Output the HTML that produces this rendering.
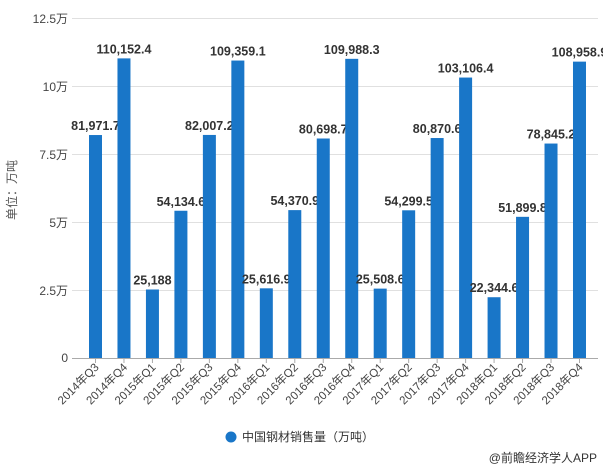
<!DOCTYPE html>
<html><head><meta charset="utf-8"><style>
html,body{margin:0;padding:0;background:#fff;}
svg{display:block;font-family:"Liberation Sans","Noto Sans CJK SC",sans-serif;}
</style></head><body>
<svg width="603" height="471" viewBox="0 0 603 471">
<g stroke="#e0e0e0" stroke-width="1">
<line x1="72" y1="18.5" x2="598" y2="18.5"/>
<line x1="72" y1="86.5" x2="598" y2="86.5"/>
<line x1="72" y1="154.5" x2="598" y2="154.5"/>
<line x1="72" y1="222.5" x2="598" y2="222.5"/>
<line x1="72" y1="290.5" x2="598" y2="290.5"/>
</g>
<g font-size="12" fill="#444" text-anchor="end">
<text x="68" y="23">12.5万</text>
<text x="68" y="91">10万</text>
<text x="68" y="159">7.5万</text>
<text x="68" y="227">5万</text>
<text x="68" y="295">2.5万</text>
<text x="68" y="362">0</text>
</g>
<text transform="translate(16,190) rotate(-90)" font-size="12" fill="#555" text-anchor="middle">单位：万吨</text>
<g id="bars"></g>
<line x1="72" y1="358.5" x2="598" y2="358.5" stroke="#aaa"/>
<g id="ticks"></g>
<circle cx="231" cy="437" r="5.5" fill="#1976c8"/>
<text x="242" y="441" font-size="12" fill="#333">中国钢材销售量（万吨）</text>
<text x="597" y="462" font-size="12" fill="#333" text-anchor="end">@前瞻经济学人APP</text>
<script>
var v=[81971.7,110152.4,25188,54134.6,82007.2,109359.1,25616.9,54370.9,80698.7,109988.3,25508.6,54299.5,80870.6,103106.4,22344.6,51899.8,78845.2,108958.9];
var cats=["2014年Q3","2014年Q4","2015年Q1","2015年Q2","2015年Q3","2015年Q4","2016年Q1","2016年Q2","2016年Q3","2016年Q4","2017年Q1","2017年Q2","2017年Q3","2017年Q4","2018年Q1","2018年Q2","2018年Q3","2018年Q4"];
var ns="http://www.w3.org/2000/svg",b=document.getElementById("bars"),t=document.getElementById("ticks");
function el(n,a,p,txt){var e=document.createElementNS(ns,n);for(var k in a)e.setAttribute(k,a[k]);if(txt)e.textContent=txt;p.appendChild(e);return e;}
v.forEach(function(x,i){
var cx=95.5+i*28.47,h=x/10000*27.2,y=358-h;
el("rect",{x:cx-6.5,y:y,width:13,height:h,fill:"#1976c8"},b);
var s=x.toLocaleString("en-US",{minimumFractionDigits:x%1?1:0});
el("text",{x:cx,y:y-5,"font-size":"12.5","font-weight":"bold",fill:"#333","text-anchor":"middle"},b,s);
el("line",{x1:cx,y1:358,x2:cx,y2:363,stroke:"#aaa"},t);
el("text",{transform:"translate("+(cx+4)+",368) rotate(-45)","font-size":"11.5",fill:"#444","text-anchor":"end"},t,cats[i]);
});
</script>
</svg>
</body></html>
